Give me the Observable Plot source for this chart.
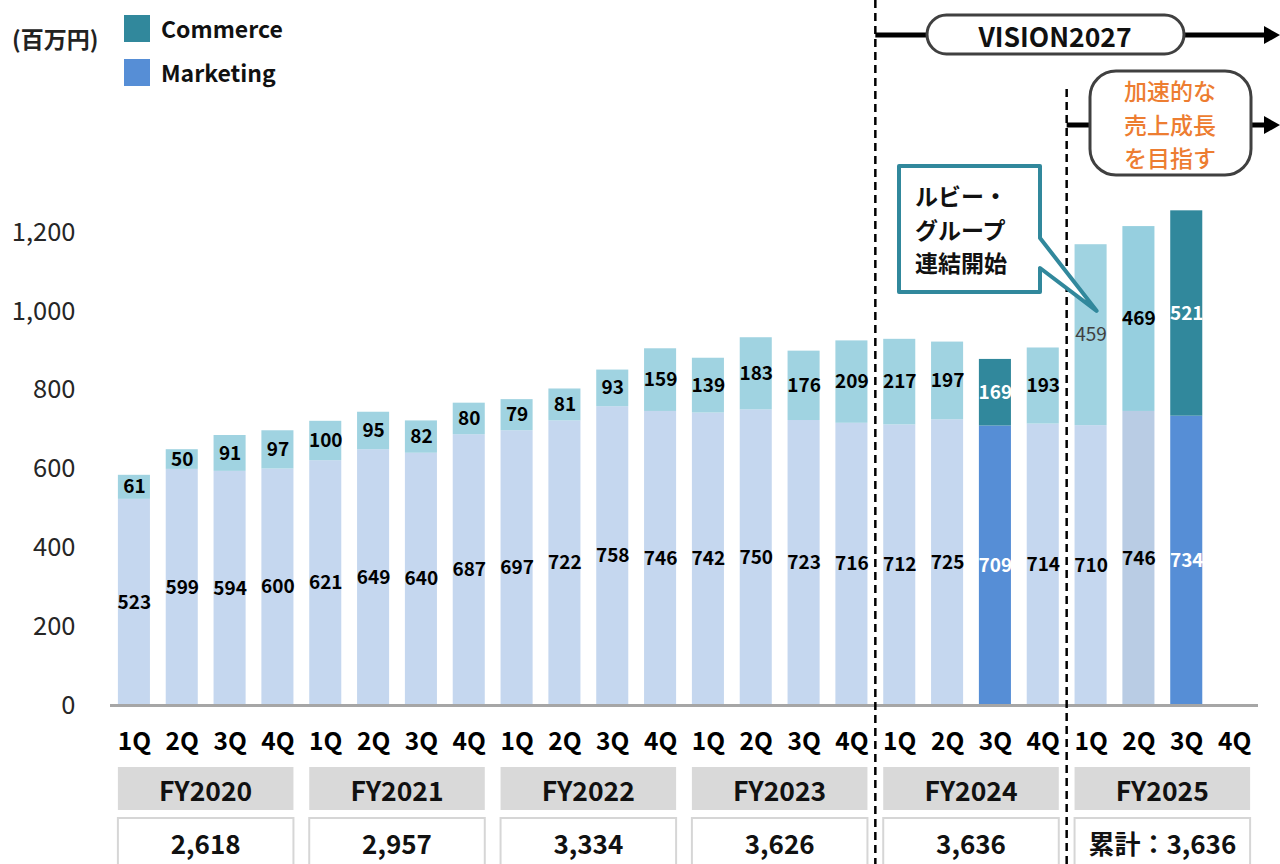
<!DOCTYPE html>
<html><head><meta charset="utf-8">
<script src="https://cdn.jsdelivr.net/npm/d3@7"></script>
<script src="https://cdn.jsdelivr.net/npm/@observablehq/plot@0.6"></script>
<style>body{margin:0;background:#fff;font-family:"Noto Sans CJK JP",sans-serif}</style>
</head><body><div id="chart"></div>
<script>
// ---- data ----
const fiscalYears = ["FY2020","FY2021","FY2022","FY2023","FY2024","FY2025"];
const quarters = ["1Q","2Q","3Q","4Q"];
const marketing = [523,599,594,600, 621,649,640,687, 697,722,758,746, 742,750,723,716, 712,725,709,714, 710,746,734,null];
const commerce  = [61,50,91,97, 100,95,82,80, 79,81,93,159, 139,183,176,209, 217,197,169,193, 459,469,521,null];
const annualTotals = ["2,618","2,957","3,334","3,626","3,636","累計：3,636"];
const yTicks = [0,200,400,600,800,1000,1200];
const seriesNames = ["Commerce","Marketing"];
const darkQuarters = ["FY2024-3Q","FY2025-3Q"];
const midQuarters = ["FY2025-2Q"];
const plainLabelQuarters = ["FY2025-1Q"];
const unitLabel = "(百万円)";
const visionLabel = "VISION2027";
const growthLines = ["加速的な","売上成長","を目指す"];
const calloutLines = ["ルビー・","グループ","連結開始"];

// ---- build table ----
const keys = [];
fiscalYears.forEach(fy => quarters.forEach(q => keys.push(fy + "-" + q)));
const rows = [];
keys.forEach((k, i) => {
  if (marketing[i] != null) rows.push({key: k, series: "Marketing", value: marketing[i]});
  if (commerce[i] != null) rows.push({key: k, series: "Commerce", value: commerce[i]});
});
const palette = {
  Marketing: {base: "#c5d7ef", mid: "#b9cce4", dark: "#568ed6"},
  Commerce:  {base: "#a0d3e1", mid: "#96cfdf", dark: "#31889c"}
};
const tone = k => darkQuarters.includes(k) ? "dark" : midQuarters.includes(k) ? "mid" : "base";
const isPlain = d => d.series === "Commerce" && plainLabelQuarters.includes(d.key);
const FONT = '"Noto Sans CJK JP", sans-serif';

const chart = Plot.plot({
  width: 1280, height: 864,
  marginTop: 232, marginBottom: 159, marginLeft: 110, marginRight: 22,
  style: {fontFamily: FONT, background: "white", overflow: "visible"},
  x: {domain: keys, paddingInner: 0.33, paddingOuter: 0.165, align: 0.5, round: false, label: null},
  y: {domain: [0, 1200], label: null},
  marks: [
    Plot.barY(rows, {x: "key", y: "value", fill: d => palette[d.series][tone(d.key)]}),
    Plot.ruleY([0], {stroke: "#a6a6a6", strokeWidth: 3}),
    Plot.axisY({ticks: yTicks, tickSize: 0, tickPadding: 35, tickFormat: d3.format(","), fontSize: 25.5, fill: "#262626", label: null}),
    Plot.axisX({tickSize: 0, tickPadding: 27, tickFormat: d => d.split("-")[1], fontSize: 24.5, fontWeight: "bold", fill: "#000", label: null}),
    Plot.text(rows, Plot.stackY({x: "key", y: "value",
      text: d => isPlain(d) ? "" : String(d.value),
      fill: d => tone(d.key) === "dark" ? "#ffffff" : "#000000",
      fontSize: 19, fontWeight: "bold"})),
    Plot.text(rows, Plot.stackY({x: "key", y: "value",
      text: d => isPlain(d) ? String(d.value) : "",
      fill: "#404040", fontSize: 19}))
  ]
});
document.getElementById("chart").appendChild(chart);

// ---- overlay using Plot's scales ----
const svg = d3.select(chart);
const xs = chart.scale("x"), ys = chart.scale("y");
const bw = xs.bandwidth;
const bx = k => xs.apply(k);
const g = svg.append("g").attr("font-family", FONT).attr("text-anchor", "start");

// FY header and totals rows
fiscalYears.forEach((fy, i) => {
  const x0 = bx(fy + "-1Q"), x1 = bx(fy + "-4Q") + bw;
  g.append("rect").attr("x", x0).attr("y", 767).attr("width", x1 - x0).attr("height", 43).attr("fill", "#d9d9d9");
  g.append("text").attr("x", (x0 + x1) / 2).attr("y", 789).attr("text-anchor", "middle").attr("dominant-baseline", "central")
    .attr("font-size", 26.5).attr("font-weight", "bold").attr("fill", "#111").text(fy);
  g.append("rect").attr("x", x0).attr("y", 818).attr("width", x1 - x0).attr("height", 60).attr("fill", "#fff")
    .attr("stroke", "#d6d6d6").attr("stroke-width", 2);
  g.append("text").attr("x", (x0 + x1) / 2).attr("y", 842).attr("text-anchor", "middle").attr("dominant-baseline", "central")
    .attr("font-size", 26).attr("font-weight", "bold").attr("fill", "#111").text(annualTotals[i]);
});

// dividers
const div1 = (bx("FY2023-4Q") + bw + bx("FY2024-1Q")) / 2;
const div2 = (bx("FY2024-4Q") + bw + bx("FY2025-1Q")) / 2;
g.append("line").attr("x1", div1).attr("x2", div1).attr("y1", 0).attr("y2", 864)
  .attr("stroke", "#000").attr("stroke-width", 2.5).attr("stroke-dasharray", "8,5");
g.append("line").attr("x1", div2).attr("x2", div2).attr("y1", 89).attr("y2", 864)
  .attr("stroke", "#000").attr("stroke-width", 2.5).attr("stroke-dasharray", "8,5");

// arrows
function arrow(x0, y) {
  g.append("line").attr("x1", x0).attr("x2", 1266).attr("y1", y).attr("y2", y).attr("stroke", "#000").attr("stroke-width", 5);
  g.append("path").attr("d", `M1264,${y - 9} L1280,${y} L1264,${y + 9} Z`).attr("fill", "#000");
}
arrow(div1, 35);
arrow(div2, 125);

// VISION pill
g.append("rect").attr("x", 927).attr("y", 15).attr("width", 257).attr("height", 39).attr("rx", 19.5)
  .attr("fill", "#fff").attr("stroke", "#404040").attr("stroke-width", 3);
g.append("text").attr("x", 1055).attr("y", 35).attr("text-anchor", "middle").attr("dominant-baseline", "central")
  .attr("font-size", 26.5).attr("font-weight", "bold").attr("fill", "#111").text(visionLabel);

// growth box
g.append("rect").attr("x", 1090).attr("y", 71).attr("width", 161).attr("height", 104).attr("rx", 26)
  .attr("fill", "#fff").attr("stroke", "#404040").attr("stroke-width", 3);
growthLines.forEach((t, i) => {
  g.append("text").attr("x", 1170).attr("y", 90 + i * 33.5).attr("text-anchor", "middle").attr("dominant-baseline", "central")
    .attr("font-size", 23).attr("font-weight", 500).attr("fill", "#ED7D31").text(t);
});

// callout
const tipX = bx("FY2025-1Q") + bw / 2 + 6, tipY = ys.apply(1000);
g.append("path").attr("d", `M899,166 H1040 V238 L${tipX},${tipY} L1040,268 V292 H899 Z`)
  .attr("fill", "#fff").attr("stroke", "#31889c").attr("stroke-width", 4).attr("stroke-linejoin", "round");
calloutLines.forEach((t, i) => {
  g.append("text").attr("x", 915).attr("y", 195 + i * 33.5).attr("text-anchor", "start").attr("dominant-baseline", "central")
    .attr("font-size", 23).attr("font-weight", "bold").attr("fill", "#111").text(t);
});

// legend + unit
g.append("text").attr("x", 12).attr("y", 38).attr("text-anchor", "start").attr("dominant-baseline", "central")
  .attr("font-size", 23).attr("font-weight", "bold").attr("fill", "#222").text(unitLabel);
seriesNames.forEach((s, i) => {
  g.append("rect").attr("x", 124).attr("y", 15 + i * 44).attr("width", 26).attr("height", 27).attr("fill", palette[s].dark);
  g.append("text").attr("x", 161).attr("y", 28 + i * 44).attr("text-anchor", "start").attr("dominant-baseline", "central")
    .attr("font-size", 23).attr("font-weight", "bold").attr("fill", "#111").text(s);
});
</script></body></html>
